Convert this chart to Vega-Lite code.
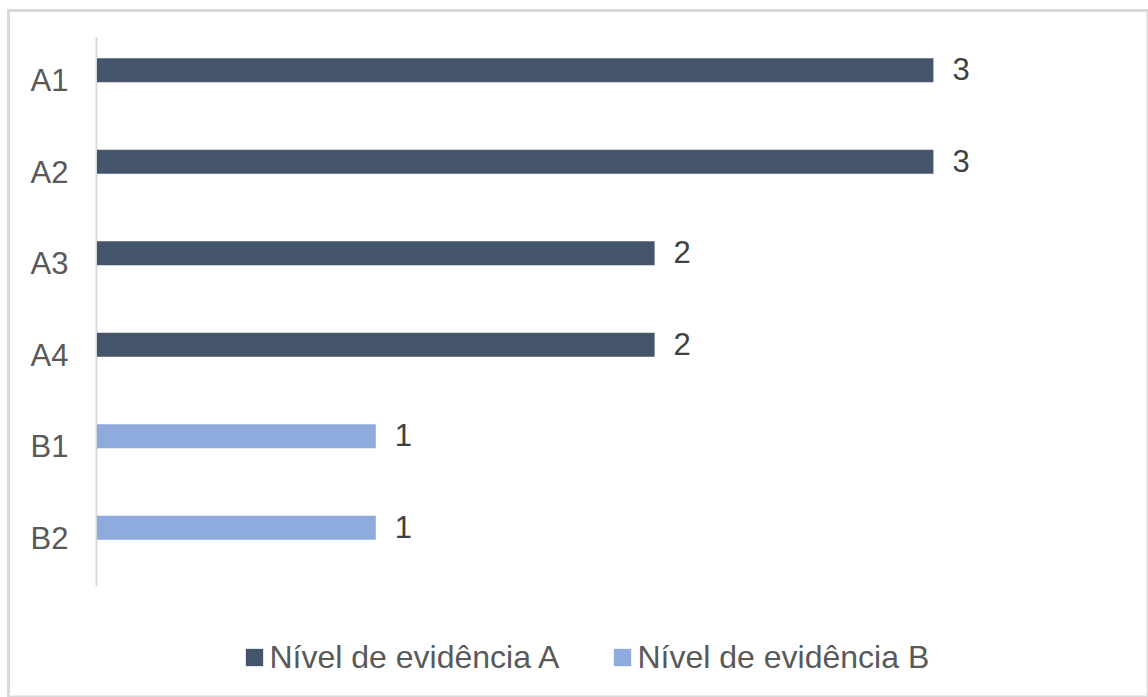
{
  "$schema": "https://vega.github.io/schema/vega-lite/v6.json",
  "width": 1139.5,
  "height": 686.5,
  "autosize": {"type": "none"},
  "padding": {"left": 8.5, "top": 10.5, "right": 0, "bottom": 0},
  "background": "white",
  "config": {
    "font": "Liberation Sans",
    "view": {"stroke": "#D9D9D9", "strokeWidth": 3}
  },
  "data": {
    "values": [
      {"cat": "A1", "nivel": "Nível de evidência A", "value": 3},
      {"cat": "A2", "nivel": "Nível de evidência A", "value": 3},
      {"cat": "A3", "nivel": "Nível de evidência A", "value": 2},
      {"cat": "A4", "nivel": "Nível de evidência A", "value": 2},
      {"cat": "B1", "nivel": "Nível de evidência B", "value": 1},
      {"cat": "B2", "nivel": "Nível de evidência B", "value": 1}
    ]
  },
  "encoding": {
    "y": {
      "field": "cat",
      "type": "nominal",
      "sort": ["A1", "A2", "A3", "A4", "B1", "B2"],
      "scale": {"range": [26, 575], "paddingInner": 0, "paddingOuter": 0},
      "axis": {
        "title": null,
        "offset": -87.5,
        "ticks": false,
        "grid": false,
        "domainColor": "#D9D9D9",
        "domainWidth": 2,
        "labelFont": "Liberation Sans",
        "labelFontSize": 31,
        "labelColor": "#595959",
        "labelPadding": 28
      }
    }
  },
  "layer": [
    {
      "mark": {"type": "bar", "height": 24, "yOffset": -12},
      "encoding": {
        "x": {
          "field": "value",
          "type": "quantitative",
          "scale": {"domain": [-0.3174, 3.7697], "nice": false, "zero": false},
          "axis": null
        },
        "x2": {"datum": 0},
        "color": {
          "field": "nivel",
          "type": "nominal",
          "scale": {
            "domain": ["Nível de evidência A", "Nível de evidência B"],
            "range": ["#44546A", "#8FAADC"]
          },
          "legend": {
            "title": null,
            "orient": "none",
            "direction": "horizontal",
            "legendX": 230,
            "legendY": 631,
            "symbolType": "square",
            "symbolSize": 300,
            "symbolStrokeWidth": 0,
            "labelFont": "Liberation Sans",
            "labelFontSize": 32,
            "labelColor": "#595959",
            "labelOffset": -1,
            "labelLimit": 0,
            "columnPadding": 45
          }
        }
      }
    },
    {
      "mark": {
        "type": "text",
        "align": "left",
        "baseline": "middle",
        "dx": 19,
        "yOffset": -11,
        "font": "Liberation Sans",
        "fontSize": 31,
        "color": "#404040"
      },
      "encoding": {
        "x": {"field": "value", "type": "quantitative"},
        "text": {"field": "value", "type": "quantitative"}
      }
    }
  ]
}
